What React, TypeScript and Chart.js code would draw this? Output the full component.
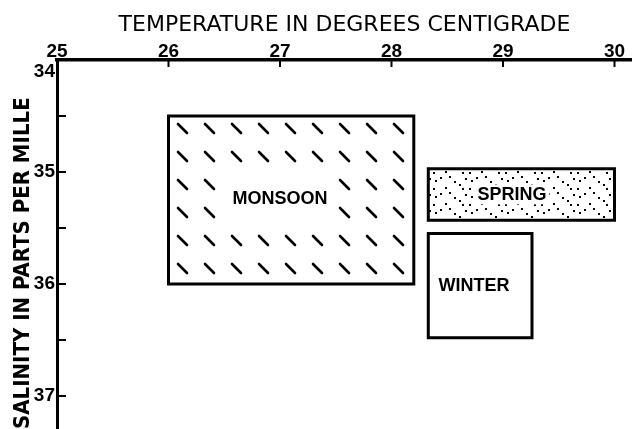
import React, { useEffect, useRef } from 'react';
import { Chart, registerables } from 'chart.js';

Chart.register(...registerables);

// ---- data ----
const seasons = ['MONSOON', 'SPRING', 'WINTER'];
const tempMin = [26.0, 28.33, 28.33];
const tempMax = [28.2, 30.0, 29.26];
const salMin = [34.5, 34.97, 35.55];
const salMax = [36.0, 35.43, 36.48];
const labelTemp = [27.0, 29.08, 28.74];
const labelSal = [35.23, 35.2, 36.01];
const xTickValues = [25, 26, 27, 28, 29, 30];
const yTickValues = [34, 34.5, 35, 35.5, 36, 36.5, 37];
const xTitle = 'TEMPERATURE IN DEGREES CENTIGRADE';
const yTitle = 'SALINITY IN PARTS PER MILLE';

// ---- styles ----
const labelPads = [
  [6, 16],
  [3, 3],
  [0, 0],
];

function hatchPattern(): CanvasPattern | string {
  const c = document.createElement('canvas');
  c.width = 27;
  c.height = 28;
  const g = c.getContext('2d')!;
  g.strokeStyle = '#000';
  g.lineWidth = 2.6;
  g.lineCap = 'round';
  g.beginPath();
  g.moveTo(16, 12);
  g.lineTo(25, 21);
  g.stroke();
  return g.createPattern(c, 'repeat') || '#fff';
}

function stipplePattern(): CanvasPattern | string {
  const c = document.createElement('canvas');
  c.width = 36;
  c.height = 16;
  const g = c.getContext('2d')!;
  g.fillStyle = '#000';
  const dots = [
    [3, 4],
    [13, 11],
    [22, 5],
    [30, 12],
    [8, 1],
    [17, 0],
    [27, 8],
    [1, 12],
    [33, 2],
  ];
  dots.forEach(([x, y]) => g.fillRect(x, y, 2, 2));
  return g.createPattern(c, 'repeat') || '#fff';
}

const noPad = (s: any) => {
  s.paddingLeft = 0;
  s.paddingRight = 0;
  s.paddingTop = 0;
  s.paddingBottom = 0;
};

export default function App() {
  const ref = useRef<HTMLCanvasElement | null>(null);

  useEffect(() => {
    if (!ref.current) return;
    const fills = [hatchPattern(), stipplePattern(), '#ffffff'];

    const datasets = seasons.map((name, i) => ({
      label: name,
      data: [
        { x: tempMin[i], y: salMin[i] },
        { x: tempMax[i], y: salMin[i] },
        { x: tempMax[i], y: salMax[i] },
        { x: tempMin[i], y: salMax[i] },
        { x: tempMin[i], y: salMin[i] },
      ],
      showLine: true,
      fill: 'shape',
      backgroundColor: fills[i],
      borderColor: '#000',
      borderWidth: 3,
      borderJoinStyle: 'miter',
      borderCapStyle: 'square',
      tension: 0,
      pointRadius: 0,
      pointHoverRadius: 0,
    }));

    const labelsPlugin = {
      id: 'seasonLabels',
      afterDatasetsDraw(chart: any) {
        const { ctx, scales } = chart;
        ctx.save();
        ctx.font = 'bold 18px "Liberation Sans", Arial, sans-serif';
        ctx.textAlign = 'center';
        ctx.textBaseline = 'middle';
        seasons.forEach((name, i) => {
          const px = scales.x.getPixelForValue(labelTemp[i]);
          const py = scales.y.getPixelForValue(labelSal[i]);
          const w = ctx.measureText(name).width;
          const [padX, padY] = labelPads[i];
          ctx.fillStyle = '#fff';
          ctx.fillRect(px - w / 2 - padX, py - 7 - padY, w + 2 * padX, 14 + 2 * padY);
          ctx.fillStyle = '#000';
          ctx.fillText(name, px, py + 1);
        });
        ctx.restore();
      },
    };

    const tickMarksPlugin = {
      id: 'inwardTicks',
      afterDraw(chart: any) {
        const { ctx, scales, chartArea } = chart;
        ctx.save();
        ctx.strokeStyle = '#000';
        ctx.lineWidth = 2;
        xTickValues.forEach((v) => {
          const px = scales.x.getPixelForValue(v);
          ctx.beginPath();
          ctx.moveTo(px, chartArea.top);
          ctx.lineTo(px, chartArea.top + 7);
          ctx.stroke();
        });
        yTickValues.forEach((v) => {
          const py = scales.y.getPixelForValue(v);
          ctx.beginPath();
          ctx.moveTo(chartArea.left, py);
          ctx.lineTo(chartArea.left + 9, py);
          ctx.stroke();
        });
        ctx.restore();
      },
    };

    const tickFont = { family: '"Liberation Sans", Arial, sans-serif', size: 19, weight: 'bold' };

    const chart = new Chart(ref.current, {
      type: 'scatter',
      data: { datasets: datasets as any },
      options: {
        animation: false,
        responsive: false,
        devicePixelRatio: 1,
        layout: { padding: 0 },
        plugins: {
          legend: { display: false },
          tooltip: { enabled: false },
        },
        events: [],
        scales: {
          x: {
            type: 'linear',
            position: 'top',
            min: 25,
            max: 30.157,
            afterBuildTicks: (s: any) => {
              s.ticks = xTickValues.map((v) => ({ value: v }));
            },
            afterFit: (s: any) => {
              s.height = 60;
              noPad(s);
            },
            grid: { display: false, drawTicks: false },
            border: { display: true, color: '#000', width: 3.5 },
            ticks: {
              autoSkip: false,
              maxRotation: 0,
              padding: -3,
              color: '#000',
              font: tickFont,
              callback: (v: any) => String(v),
            },
            title: {
              display: true,
              text: xTitle,
              color: '#000',
              font: { family: '"DejaVu Sans", sans-serif', size: 22, weight: 'normal' },
              padding: { top: 12, bottom: 0 },
            },
          },
          y: {
            type: 'linear',
            position: 'left',
            reverse: true,
            min: 34,
            max: 37.295,
            afterBuildTicks: (s: any) => {
              s.ticks = yTickValues.map((v) => ({ value: v }));
            },
            afterFit: (s: any) => {
              s.width = 57;
              noPad(s);
            },
            grid: { display: false, drawTicks: false },
            border: { display: true, color: '#000', width: 3 },
            ticks: {
              autoSkip: false,
              padding: 2,
              color: '#000',
              font: tickFont,
              callback: (v: any) => {
                const n = Number(v);
                if (!Number.isInteger(n)) return '';
                return n === yTickValues[0] ? ['', String(n)] : String(n);
              },
            },
            title: { display: false },
          },
          yTitleAxis: {
            type: 'linear',
            position: 'left',
            min: 34,
            max: 37.295,
            afterFit: (s: any) => {
              s.width = 0;
              noPad(s);
            },
            grid: { display: false, drawTicks: false },
            border: { display: false },
            ticks: { display: false },
            title: {
              display: true,
              text: yTitle,
              align: 'start',
              color: '#000',
              font: {
                family: '"Liberation Sans Narrow", "DejaVu Sans Condensed", "Liberation Sans", sans-serif',
                size: 22,
                weight: 'bold',
              },
              padding: { top: 10, bottom: 0 },
            },
          },
        },
      } as any,
      plugins: [labelsPlugin, tickMarksPlugin],
    });

    return () => chart.destroy();
  }, []);

  return (
    <div style={{ position: 'fixed', left: 0, top: 0, width: 632, height: 429, background: '#fff' }}>
      <canvas ref={ref} width={632} height={429} style={{ display: 'block', width: 632, height: 429 }} />
    </div>
  );
}
